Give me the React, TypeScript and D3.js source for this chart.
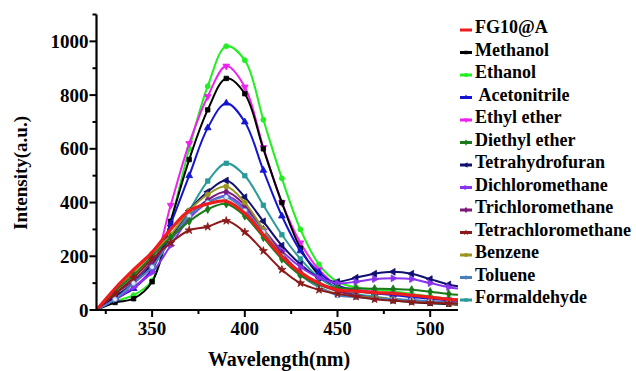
import React from "react";
import * as d3 from "d3";

const wavelengths = [320, 330, 340, 350, 360, 370, 380, 390, 400, 410, 420, 430, 440, 450, 460, 470, 480, 490, 500, 510, 515];

const seriesNames = [
  "FG10@A", "Methanol", "Ethanol", " Acetonitrile", "Ethyl ether", "Diethyl ether",
  "Tetrahydrofuran", "Dichloromethane", "Trichloromethane", "Tetrachloromethane",
  "Benzene", "Toluene", "Formaldehyde",
];

const fg10a = [0, 80, 150, 215, 300, 370, 395, 405, 360, 280, 200, 140, 100, 75, 70, 65, 62, 55, 48, 40, 38];
const methanol = [0, 28, 42, 105, 330, 560, 745, 862, 805, 600, 400, 230, 130, 80, 55, 45, 35, 30, 25, 22, 20];
const ethanol = [0, 32, 55, 110, 330, 600, 833, 982, 930, 708, 490, 300, 170, 105, 85, 75, 70, 60, 50, 42, 40];
const acetonitrile = [0, 40, 80, 150, 320, 500, 678, 770, 700, 520, 350, 220, 140, 92, 72, 62, 56, 48, 42, 36, 34];
const ethylEther = [0, 40, 85, 155, 390, 620, 795, 908, 830, 605, 400, 250, 150, 92, 76, 66, 60, 52, 44, 38, 36];
const diethylEther = [0, 70, 130, 200, 270, 330, 375, 395, 350, 270, 190, 130, 95, 82, 80, 79, 78, 75, 68, 60, 57];
const tetrahydrofuran = [0, 50, 100, 170, 270, 370, 440, 482, 420, 330, 240, 170, 120, 105, 120, 135, 142, 135, 115, 95, 88];
const dichloromethane = [0, 40, 85, 140, 240, 340, 400, 425, 380, 300, 220, 160, 120, 100, 105, 115, 118, 115, 100, 85, 80];
const trichloromethane = [0, 60, 110, 180, 260, 350, 410, 440, 390, 300, 210, 140, 95, 70, 55, 45, 40, 36, 32, 30, 28];
const tetrachloromethane = [0, 60, 120, 190, 250, 297, 310, 332, 290, 220, 150, 100, 75, 60, 50, 40, 35, 30, 27, 25, 24];
const benzene = [0, 70, 140, 210, 280, 370, 430, 460, 400, 300, 200, 130, 85, 60, 50, 45, 40, 35, 30, 25, 24];
const toluene = [0, 40, 100, 160, 260, 350, 400, 420, 370, 290, 200, 130, 85, 55, 48, 42, 40, 37, 33, 28, 27];
const formaldehyde = [0, 50, 100, 170, 260, 370, 480, 546, 500, 390, 280, 190, 120, 80, 60, 50, 40, 35, 30, 25, 24];

const seriesValues = [
  fg10a, methanol, ethanol, acetonitrile, ethylEther, diethylEther, tetrahydrofuran,
  dichloromethane, trichloromethane, tetrachloromethane, benzene, toluene, formaldehyde,
];

const colors = [
  "#ee1c1c", "#000000", "#22ee22", "#1515d0", "#ee22ee", "#1a7a1a", "#101070",
  "#8833ee", "#7a1a7a", "#8b1a1a", "#9c9420", "#4a7fbf", "#2a9a9a",
];

const symbolTypes = [
  d3.symbolCircle, d3.symbolSquare, d3.symbolCircle, d3.symbolTriangle, d3.symbolTriangle,
  d3.symbolDiamond, d3.symbolTriangle, d3.symbolTriangle, d3.symbolDiamond, d3.symbolStar,
  d3.symbolCircle, d3.symbolCircle, d3.symbolSquare,
];
const symbolRotate = [0, 0, 0, 0, 180, 0, -90, 90, 0, 0, 0, 0, 0];

const xMajor = [350, 400, 450, 500];
const xMinor = [325, 375, 425, 475];
const yMajor = [0, 200, 400, 600, 800, 1000];
const yMinor = [100, 300, 500, 700, 900, 1100];

const W = 636;
const H = 371;
const font = "Liberation Serif, Times New Roman, serif";

export default function App() {
  const x = d3.scaleLinear().domain([320, 515]).range([96.5, 458]);
  const y = d3.scaleLinear().domain([0, 1100]).range([310, 14.5]);

  const line = d3
    .line<[number, number]>()
    .x((d) => x(d[0]))
    .y((d) => y(d[1]))
    .curve(d3.curveCatmullRom.alpha(0.5));

  const legendX = 460;
  const legendY0 = 27;
  const legendStep = 22.5;

  // draw order: thin lines first, the thick FG10@A line on top
  const order = [2, 4, 1, 3, 12, 6, 7, 8, 10, 11, 5, 9, 0];

  const textStyle: React.CSSProperties = { fontFamily: font, fontWeight: "bold" };

  return (
    <svg
      width={W}
      height={H}
      style={{ position: "absolute", left: 0, top: 0, background: "#fff" }}
    >
      <defs>
        <clipPath id="plotClip">
          <rect x={x(320)} y={0} width={x(515) - x(320)} height={y(0) + 1} />
        </clipPath>
      </defs>

      <g clipPath="url(#plotClip)">
        {order.map((i) => {
          const pts = wavelengths.map((w, k) => [w, seriesValues[i][k]] as [number, number]);
          const sym = d3.symbol().type(symbolTypes[i]).size(i === 0 ? 0 : 20);
          return (
            <g key={i}>
              <path
                d={line(pts) || ""}
                fill="none"
                stroke={colors[i]}
                strokeWidth={i === 0 ? 3.2 : 2}
                strokeLinejoin="round"
              />
              {i !== 0 &&
                pts
                  .filter((p) => p[0] % 10 === 0 && p[0] > 320)
                  .map((p, k) => (
                    <path
                      key={k}
                      d={sym() || ""}
                      transform={`translate(${x(p[0])},${y(p[1])}) rotate(${symbolRotate[i]})`}
                      fill={i === 11 ? "#dde8f4" : colors[i]}
                      stroke={colors[i]}
                      strokeWidth={0.8}
                    />
                  ))}
            </g>
          );
        })}
      </g>

      {/* axes */}
      <line x1={x(320)} x2={x(320)} y1={y(1100)} y2={y(0) + 1} stroke="#000" strokeWidth={2.2} />
      <line x1={x(320) - 1} x2={x(515)} y1={y(0)} y2={y(0)} stroke="#000" strokeWidth={2.2} />

      {yMajor.map((v) => (
        <g key={"ym" + v}>
          <line x1={x(320) - 7} x2={x(320)} y1={y(v)} y2={y(v)} stroke="#000" strokeWidth={2} />
          <text x={x(320) - 8} y={y(v)} dy="0.35em" textAnchor="end" fontSize={19} style={textStyle}>
            {v}
          </text>
        </g>
      ))}
      {yMinor.map((v) => (
        <line key={"yn" + v} x1={x(320) - 4} x2={x(320)} y1={y(v)} y2={y(v)} stroke="#000" strokeWidth={2} />
      ))}
      {xMajor.map((v) => (
        <g key={"xm" + v}>
          <line x1={x(v)} x2={x(v)} y1={y(0)} y2={y(0) + 7} stroke="#000" strokeWidth={2} />
          <text x={x(v)} y={335} textAnchor="middle" fontSize={19} style={textStyle}>
            {v}
          </text>
        </g>
      ))}
      {xMinor.map((v) => (
        <line key={"xn" + v} x1={x(v)} x2={x(v)} y1={y(0)} y2={y(0) + 4} stroke="#000" strokeWidth={2} />
      ))}

      <text x={279} y={366} textAnchor="middle" fontSize={20} style={textStyle}>
        Wavelength(nm)
      </text>
      <text
        transform={`translate(27,173) rotate(-90)`}
        textAnchor="middle"
        fontSize={19}
        style={textStyle}
      >
        Intensity(a.u.)
      </text>

      {/* legend */}
      {seriesNames.map((name, i) => {
        const ly = legendY0 + i * legendStep;
        const sym = d3.symbol().type(symbolTypes[i]).size(12);
        return (
          <g key={"lg" + i}>
            <line x1={legendX} x2={legendX + 12} y1={ly + 3} y2={ly + 3} stroke={colors[i]} strokeWidth={3} />
            {i !== 0 && (
              <path
                d={sym() || ""}
                transform={`translate(${legendX + 6},${ly + 3}) rotate(${symbolRotate[i]})`}
                fill={colors[i]}
              />
            )}
            <text
              x={legendX + 15}
              y={ly}
              dy="0.35em"
              fontSize={18}
              style={{ ...textStyle, whiteSpace: "pre" }}
            >
              {name}
            </text>
          </g>
        );
      })}
    </svg>
  );
}
